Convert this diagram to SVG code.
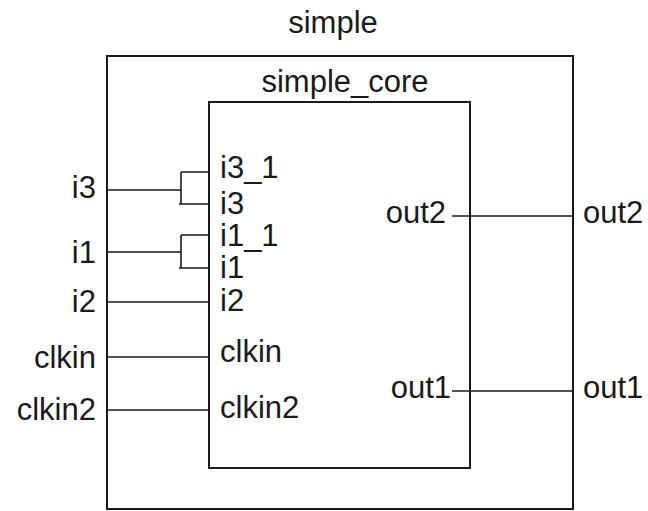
<svg xmlns="http://www.w3.org/2000/svg" width="648" height="511" viewBox="0 0 648 511">
<style>
text{font-family:"Liberation Sans",Arial,sans-serif;font-size:31px;fill:#1a1a1a}
.box{fill:none;stroke:#1a1a1a;stroke-width:2}
.w{fill:none;stroke:#1a1a1a;stroke-width:1.6}
.e{text-anchor:end}
.m{text-anchor:middle}
</style>
<rect width="648" height="511" fill="#fff"/>
<g id="simple">
<rect class="box" x="107" y="56" width="466" height="453"/>
<text class="m" x="333" y="33">simple</text>
<text class="e" x="96" y="198">i3</text>
<text class="e" x="96" y="263">i1</text>
<text class="e" x="96" y="312">i2</text>
<text class="e" x="96" y="368">clkin</text>
<text class="e" x="96" y="420">clkin2</text>
<text x="583" y="223">out2</text>
<text x="583" y="398">out1</text>
</g>
<g id="simple_core">
<rect class="box" x="209" y="102" width="261" height="366"/>
<text class="m" x="345" y="92">simple_core</text>
<text x="220" y="178">i3_1</text>
<text x="220" y="214">i3</text>
<text x="220" y="246">i1_1</text>
<text x="220" y="278">i1</text>
<text x="220" y="311">i2</text>
<text x="220" y="362">clkin</text>
<text x="220" y="418">clkin2</text>
<text class="e" x="446" y="223">out2</text>
<text class="e" x="451" y="398">out1</text>
</g>
<g id="connectors">
<path class="w" d="M107 190H181M181 172V204M181 172H209M179 204H209"/>
<path class="w" d="M107 252H181M181 235V268M181 235H209M179 268H209"/>
<path class="w" d="M107 302H209"/>
<path class="w" d="M107 357H209"/>
<path class="w" d="M107 410H209"/>
<path class="w" d="M452 216H573"/>
<path class="w" d="M452 391H573"/>
</g>
</svg>
